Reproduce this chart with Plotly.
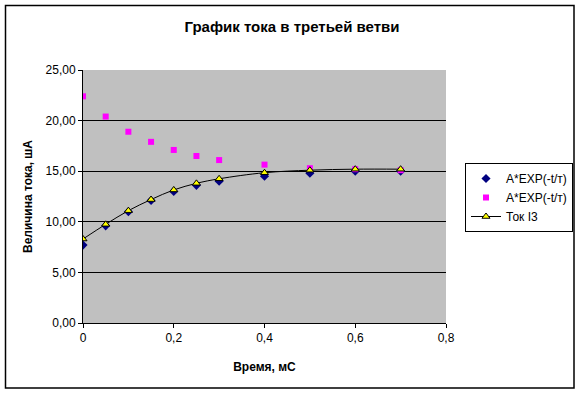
import plotly.graph_objects as go

t_ms = [0, 0.05, 0.1, 0.15, 0.2, 0.25, 0.3, 0.4, 0.5, 0.6, 0.7]
exp_blue = [7.7, 9.6, 11.0, 12.1, 13.0, 13.6, 14.0, 14.5, 14.8, 15.0, 15.0]
exp_magenta = [22.4, 20.4, 18.9, 17.9, 17.1, 16.5, 16.1, 15.65, 15.3, 15.2, 15.1]
tok_i3 = [8.3, 9.75, 11.1, 12.2, 13.15, 13.8, 14.25, 14.85, 15.1, 15.2, 15.2]

series_names = ["A*EXP(-t/т)", "A*EXP(-t/т)", "Ток I3"]
x_ticks = [0, 0.2, 0.4, 0.6, 0.8]
y_ticks = [0, 5, 10, 15, 20, 25]

FONT = "Liberation Sans, Arial, sans-serif"

fig = go.Figure()
fig.add_trace(go.Scatter(
    x=t_ms, y=exp_blue, mode="markers", name=series_names[0],
    marker=dict(symbol="diamond", color="#000080", size=7, line=dict(width=0)),
))
fig.add_trace(go.Scatter(
    x=t_ms, y=exp_magenta, mode="markers", name=series_names[1],
    marker=dict(symbol="square", color="#ff00ff", size=6, line=dict(width=0)),
))
fig.add_trace(go.Scatter(
    x=t_ms, y=tok_i3, mode="lines+markers", name=series_names[2],
    line=dict(color="black", width=1, shape="spline"),
    marker=dict(symbol="triangle-up", color="#ffff00", size=7, line=dict(color="black", width=1)),
))

fig.update_layout(
    width=581, height=394,
    margin=dict(l=83, r=135, t=70, b=71, autoexpand=False),
    paper_bgcolor="white",
    plot_bgcolor="#c0c0c0",
    separators=", ",
    font=dict(family=FONT, size=12, color="black"),
    title=dict(text="<b>График тока в третьей ветви</b>", x=(292 - 83) / 363, xref="paper", xanchor="center",
               y=1 - 27 / 394, yanchor="middle", font=dict(size=15, family=FONT), automargin=False),
    showlegend=True,
    legend=dict(x=(465 - 83) / 363, xanchor="left", y=(323 - 163) / 253, yanchor="top",
                bordercolor="black", borderwidth=1, bgcolor="white",
                font=dict(size=12, family=FONT), tracegroupgap=0, itemwidth=30),
    xaxis=dict(range=[0, 0.8], tickvals=x_ticks, showgrid=False, zeroline=False, automargin=False,
               showline=True, linecolor="black", linewidth=1, ticks="outside", ticklen=4,
               tickcolor="black",
               title=dict(text="<b>Время, мС</b>", font=dict(size=12, family=FONT), standoff=18)),
    yaxis=dict(range=[0, 25], tickvals=y_ticks, tickformat=".2f", showgrid=True, automargin=False,
               gridcolor="black", gridwidth=1, zeroline=False,
               showline=True, linecolor="black", linewidth=1, ticks="outside", ticklen=4,
               tickcolor="black",
               title=dict(text="<b>Величина тока, шА</b>", font=dict(size=12, family=FONT), standoff=10)),
)

fig.add_shape(type="rect", xref="paper", yref="paper",
              x0=(5.5 - 83) / 363, x1=(574 - 83) / 363,
              y0=(323 - 388) / 253, y1=(323 - 5.5) / 253,
              line=dict(color="black", width=1.5), fillcolor="rgba(0,0,0,0)", layer="below")

fig.write_html("out.html", config={"displayModeBar": False},
               post_script="document.body.style.margin='0';document.body.style.overflow='hidden';")
